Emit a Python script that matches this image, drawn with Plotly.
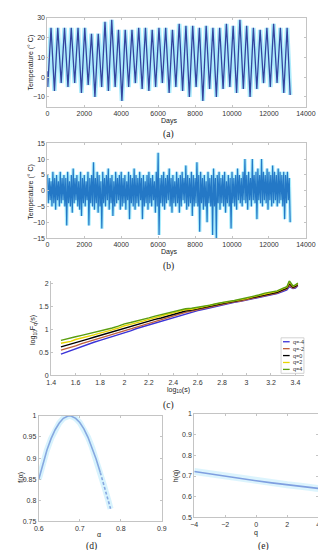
import plotly.graph_objects as go

# ---------------- DATA ----------------
# (a) daily temperature: annual extremes (day, value)
a_peak_days = [200, 565, 930, 1296, 1661, 2026, 2392, 2757, 3122, 3487, 3853, 4218,
               4583, 4948, 5314, 5679, 6044, 6409, 6775, 7140, 7505, 7871, 8236, 8601,
               8966, 9332, 9697, 10062, 10427, 10793, 11158, 11523, 11889, 12254, 12619, 12984]
a_peak_vals = [25, 25, 25, 25, 25, 25, 22, 22, 28, 29, 24, 24,
               24, 25, 25, 24, 25, 25, 24, 27, 26, 26, 25, 26,
               25, 25, 27, 26, 29, 26, 25, 24, 25, 27, 25, 25]
a_trough_days = [0, 20, 385, 750, 1116, 1481, 1846, 2212, 2577, 2942, 3307, 3673, 4038,
                 4403, 4768, 5134, 5499, 5864, 6229, 6595, 6960, 7325, 7691, 8056,
                 8421, 8786, 9152, 9517, 9882, 10247, 10613, 10978, 11343, 11709,
                 12074, 12439, 12804, 13149]
a_trough_vals = [3, -5, -7, -3, -5, -3, -8, -4, -10, -5, -7, -5, -12,
                 -5, -3, -6, -7, -5, -3, -8, -5, -7, -10, -5,
                 -12, -6, -10, -6, -5, -8, -6, -10, -6, -3,
                 -5, -3, -8, -9]

# (b) anomalies: local highs / lows per ~100-day window
b_step_days = 50
b_highs = [5, 4, 3, 6, 4, 5, 3, 6, 4, 5,
           4, 6, 3, 5, 7, 4, 5, 3, 6, 4,
           5, 3, 6, 4, 5, 9, 4, 6, 5, 3,
           6, 4, 5, 7, 4, 5, 3, 6, 4, 5,
           6, 4, 5, 3, 6, 5, 4, 7, 5, 4,
           6, 4, 5, 3, 5, 6, 4, 5, 3, 6,
           12, 4, 5, 6, 4, 5, 7, 4, 5, 3,
           6, 4, 5, 6, 4, 8, 5, 4, 6, 5,
           4, 9, 5, 6, 4, 5, 3, 6, 4, 5,
           7, 4, 5, 6, 4, 5, 6, 3, 5, 4,
           6, 4, 5, 7, 5, 4, 6, 10, 5, 6,
           4, 10, 5, 6, 7, 5, 10, 6, 5, 7,
           6, 5, 8, 6, 5, 7, 6, 5, 6, 5,
           6, 4]
b_lows = [-4, -3, -5, -4, -6, -3, -5, -4, -3, -5,
          -11, -4, -5, -7, -4, -3, -5, -6, -8, -4,
          -5, -3, -11, -4, -5, -6, -4, -7, -5, -12,
          -4, -5, -3, -6, -4, -8, -5, -4, -3, -6,
          -5, -4, -6, -3, -9, -4, -5, -6, -4, -5,
          -3, -9, -5, -4, -6, -4, -5, -3, -7, -5,
          -14, -4, -5, -6, -4, -3, -5, -7, -4, -5,
          -4, -7, -5, -3, -4, -6, -5, -4, -8, -5,
          -4, -5, -13, -4, -6, -5, -10, -4, -5, -14,
          -5, -15, -4, -6, -4, -5, -7, -4, -5, -12,
          -4, -5, -6, -3, -4, -5, -3, -4, -6, -3,
          -5, -3, -4, -9, -3, -4, -5, -3, -4, -6,
          -3, -5, -4, -3, -5, -4, -3, -5, -9, -4,
          -3, -10]

# (c) log10 Fq(s) vs log10(s)
c_logs = [1.48, 1.52, 1.56, 1.60, 1.65, 1.70, 1.75, 1.80, 1.85, 1.90, 1.95, 2.00, 2.05,
          2.10, 2.15, 2.20, 2.25, 2.30, 2.35, 2.40, 2.45, 2.50, 2.55, 2.60, 2.65, 2.70,
          2.75, 2.80, 2.85, 2.90, 2.95, 3.00, 3.05, 3.10, 3.15, 3.20, 3.25, 3.30, 3.33,
          3.35, 3.38, 3.40, 3.42]
c_q_m4 = [.46, .50, .53, .57, .62, .67, .72, .76, .80, .85, .89, .93, .97,
          1.02, 1.06, 1.10, 1.14, 1.18, 1.22, 1.26, 1.30, 1.34, 1.38, 1.41, 1.44, 1.47,
          1.51, 1.54, 1.56, 1.59, 1.61, 1.64, 1.67, 1.70, 1.73, 1.76, 1.78, 1.83, 1.86,
          1.93, 1.89, 1.90, 1.95]
c_q_m2 = [.55, .58, .60, .64, .69, .73, .78, .82, .85, .89, .93, .98, 1.01,
          1.06, 1.10, 1.14, 1.18, 1.21, 1.25, 1.29, 1.33, 1.37, 1.40, 1.43, 1.46, 1.49,
          1.52, 1.55, 1.57, 1.60, 1.62, 1.65, 1.68, 1.71, 1.74, 1.77, 1.79, 1.85, 1.88,
          1.96, 1.90, 1.92, 1.96]
c_q_0 = [.62, .65, .67, .71, .75, .79, .83, .87, .90, .94, .98, 1.03, 1.06,
         1.10, 1.14, 1.18, 1.22, 1.25, 1.29, 1.33, 1.36, 1.40, 1.42, 1.45, 1.48, 1.50,
         1.54, 1.57, 1.59, 1.61, 1.64, 1.66, 1.70, 1.73, 1.76, 1.79, 1.81, 1.87, 1.90,
         2.00, 1.92, 1.94, 1.98]
c_q_2 = [.70, .72, .74, .78, .81, .85, .88, .92, .95, .99, 1.03, 1.08, 1.11,
         1.14, 1.18, 1.22, 1.26, 1.29, 1.33, 1.36, 1.39, 1.43, 1.44, 1.47, 1.50, 1.52,
         1.55, 1.58, 1.60, 1.62, 1.65, 1.67, 1.71, 1.74, 1.78, 1.81, 1.83, 1.89, 1.92,
         2.03, 1.94, 1.96, 2.00]
c_q_4 = [.76, .79, .81, .84, .87, .90, .93, .96, .99, 1.03, 1.07, 1.12, 1.15,
         1.18, 1.22, 1.25, 1.29, 1.32, 1.36, 1.39, 1.42, 1.45, 1.46, 1.48, 1.51, 1.53,
         1.56, 1.59, 1.61, 1.63, 1.66, 1.68, 1.72, 1.75, 1.79, 1.82, 1.84, 1.90, 1.93,
         2.06, 1.95, 1.97, 2.01]
c_labels = ["q=-4", "q=-2", "q=0", "q=2", "q=4"]

# (d) singularity spectrum
d_alpha = [0.600, 0.610, 0.620, 0.630, 0.640, 0.650, 0.660, 0.670, 0.675, 0.680,
           0.690, 0.700, 0.710, 0.720, 0.730, 0.740, 0.750]
d_f = [0.850, 0.887, 0.919, 0.946, 0.967, 0.983, 0.994, 0.999, 1.000, 0.999,
       0.994, 0.984, 0.969, 0.949, 0.925, 0.897, 0.866]
d_alpha_tail = [0.750, 0.760, 0.770, 0.775]
d_f_tail = [0.866, 0.832, 0.798, 0.780]

# (e) generalized Hurst exponent
e_q = [-4, -3, -2, -1, 0, 1, 2, 3, 4]
e_h = [0.722, 0.710, 0.698, 0.687, 0.677, 0.667, 0.658, 0.649, 0.640]

# ---------------- FIGURE ----------------
W, H = 326, 550
def px(x): return x / W
def py(y): return 1 - y / H

a_pts = sorted(list(zip(a_peak_days, a_peak_vals)) + list(zip(a_trough_days, a_trough_vals)))
a_days = [p[0] for p in a_pts]
a_vals = [p[1] for p in a_pts]

b_vals = [v for pair in zip(b_highs, b_lows) for v in pair]
b_days = [i * b_step_days for i in range(len(b_vals))]

fig = go.Figure()

# (a)
fig.add_trace(go.Scatter(x=a_days, y=a_vals, mode="lines", xaxis="x", yaxis="y",
                         line=dict(color="rgba(70,210,248,0.45)", width=4.5), showlegend=False))
fig.add_trace(go.Scatter(x=a_days, y=a_vals, mode="lines", xaxis="x", yaxis="y",
                         line=dict(color="#34449f", width=1.3), showlegend=False))
# (b)
fig.add_trace(go.Scatter(x=b_days, y=b_vals, mode="lines", xaxis="x2", yaxis="y2",
                         line=dict(color="rgba(100,220,250,0.55)", width=3.5), showlegend=False))
fig.add_trace(go.Scatter(x=b_days, y=b_vals, mode="lines", xaxis="x2", yaxis="y2",
                         line=dict(color="#2478c6", width=1.2), showlegend=False))
# (c)
c_colors = ["#3a32d8", "#c0603c", "#000000", "#e8d400", "#5a9e10"]
for ys, col in zip([c_q_m4, c_q_m2, c_q_0, c_q_2, c_q_4], c_colors):
    fig.add_trace(go.Scatter(x=c_logs, y=ys, mode="lines", xaxis="x3", yaxis="y3",
                             line=dict(color=col, width=1.4), showlegend=False))
# (d)
fig.add_trace(go.Scatter(x=d_alpha + d_alpha_tail[1:], y=d_f + d_f_tail[1:], mode="lines",
                         xaxis="x4", yaxis="y4", line=dict(color="rgba(200,238,252,0.7)", width=6),
                         showlegend=False))
fig.add_trace(go.Scatter(x=d_alpha, y=d_f, mode="lines", xaxis="x4", yaxis="y4",
                         line=dict(color="#86a8e0", width=1.6), showlegend=False))
fig.add_trace(go.Scatter(x=d_alpha_tail, y=d_f_tail, mode="lines", xaxis="x4", yaxis="y4",
                         line=dict(color="#86a8e0", width=1.6, dash="3px,2px"), showlegend=False))
# (e)
fig.add_trace(go.Scatter(x=e_q, y=e_h, mode="lines", xaxis="x5", yaxis="y5",
                         line=dict(color="rgba(205,240,252,0.7)", width=7), showlegend=False))
fig.add_trace(go.Scatter(x=e_q, y=e_h, mode="lines", xaxis="x5", yaxis="y5",
                         line=dict(color="#7f9fe0", width=1.6), showlegend=False))

tickfont = dict(family="Liberation Sans, Arial", size=7, color="#333333")
frame = "#c4c4c4"

def ax(domain, rng, anchor, dtick=None, tickvals=None, mirror=True):
    d = dict(domain=domain, range=rng, anchor=anchor, showgrid=False, zeroline=False,
             showline=True, linecolor=frame, linewidth=1, mirror="ticks" if mirror else False,
             ticks="inside", ticklen=2, tickcolor=frame, tickfont=tickfont,
             ticklabeloverflow="allow", tickformat="")
    if dtick is not None:
        d["dtick"] = dtick
        d["tick0"] = 0
    if tickvals is not None:
        d["tickvals"] = tickvals
    return d

xa = ax([px(36), px(307)], [0, 14000], "y", dtick=2000); xa["tickformat"] = "d"
xb = ax([px(36), px(307)], [0, 14000], "y2", dtick=2000); xb["tickformat"] = "d"

layout = dict(
    width=W, height=H, margin=dict(l=0, r=0, t=0, b=0),
    paper_bgcolor="white", plot_bgcolor="white", showlegend=False,
    xaxis=xa,
    yaxis=ax([py(96), py(6)], [-15, 30], "x", tickvals=[-10, 0, 10, 20, 30]),
    xaxis2=xb,
    yaxis2=ax([py(229), py(133)], [-15, 15], "x2", dtick=5),
    xaxis3=ax([px(40), px(305)], [1.4, 3.47], "y3",
              tickvals=[1.4, 1.6, 1.8, 2, 2.2, 2.4, 2.6, 2.8, 3, 3.2, 3.4], mirror=False),
    yaxis3=ax([py(368), py(272)], [0, 2.065], "x3", tickvals=[0, 0.5, 1, 1.5, 2], mirror=False),
    xaxis4=ax([px(27), px(156)], [0.6, 0.9], "y4", tickvals=[0.6, 0.7, 0.8, 0.9]),
    yaxis4=ax([py(516), py(409)], [0.75, 1.0], "x4",
              tickvals=[0.75, 0.8, 0.85, 0.9, 0.95, 1]),
    xaxis5=ax([px(190), px(320)], [-4, 4], "y5", tickvals=[-4, -2, 0, 2, 4]),
    yaxis5=ax([py(512), py(407)], [0.5, 1.0], "x5",
              tickvals=[0.5, 0.6, 0.7, 0.8, 0.9, 1]),
)
fig.update_layout(**layout)

lab = dict(family="Liberation Sans, Arial", size=7, color="#222222")
serif = dict(family="Liberation Serif, Times New Roman", size=9.5, color="#222222")
annots = []
def add_text(text, x, y, font, angle=0, xanchor="center"):
    annots.append(dict(text=text, x=px(x), y=py(y), xref="paper", yref="paper",
                       showarrow=False, font=font, textangle=angle,
                       xanchor=xanchor, yanchor="middle"))

add_text("Temperature (° C)", 19, 51, lab, -90)
add_text("Days", 163, 110, lab)
add_text("(a)", 163, 124, serif)
add_text("Temperature (° C)", 19, 182, lab, -90)
add_text("Days", 163, 243, lab)
add_text("(b)", 163, 258, serif)
add_text("log<sub>10</sub>F<sub>q</sub>(s)", 21, 322, lab, -90)
add_text("log<sub>10</sub>(s)", 173, 383, lab)
add_text("(c)", 163, 399, serif)
add_text("f(α)", 8, 471, lab, -90)
add_text("α", 90, 529, lab)
add_text("(d)", 82, 541, serif)
add_text("h(q)", 171, 470, lab, -90)
add_text("q", 255, 528, lab)
add_text("(e)", 263, 541, serif)

shapes = [dict(type="rect", xref="paper", yref="paper", x0=px(281), x1=px(305),
               y0=py(366), y1=py(330), line=dict(color="#c8c8c8", width=0.8),
               fillcolor="white", layer="above")]
leg_font = dict(family="Liberation Sans, Arial", size=5.5, color="#333333")
for i, (name, col) in enumerate(zip(c_labels, c_colors)):
    yy = 334 + i * 7
    shapes.append(dict(type="line", xref="paper", yref="paper", x0=px(283), x1=px(290),
                       y0=py(yy), y1=py(yy), line=dict(color=col, width=1.3), layer="above"))
    add_text(name, 291, yy, leg_font, xanchor="left")

fig.update_layout(annotations=annots, shapes=shapes)
fig.write_html("out.html")
